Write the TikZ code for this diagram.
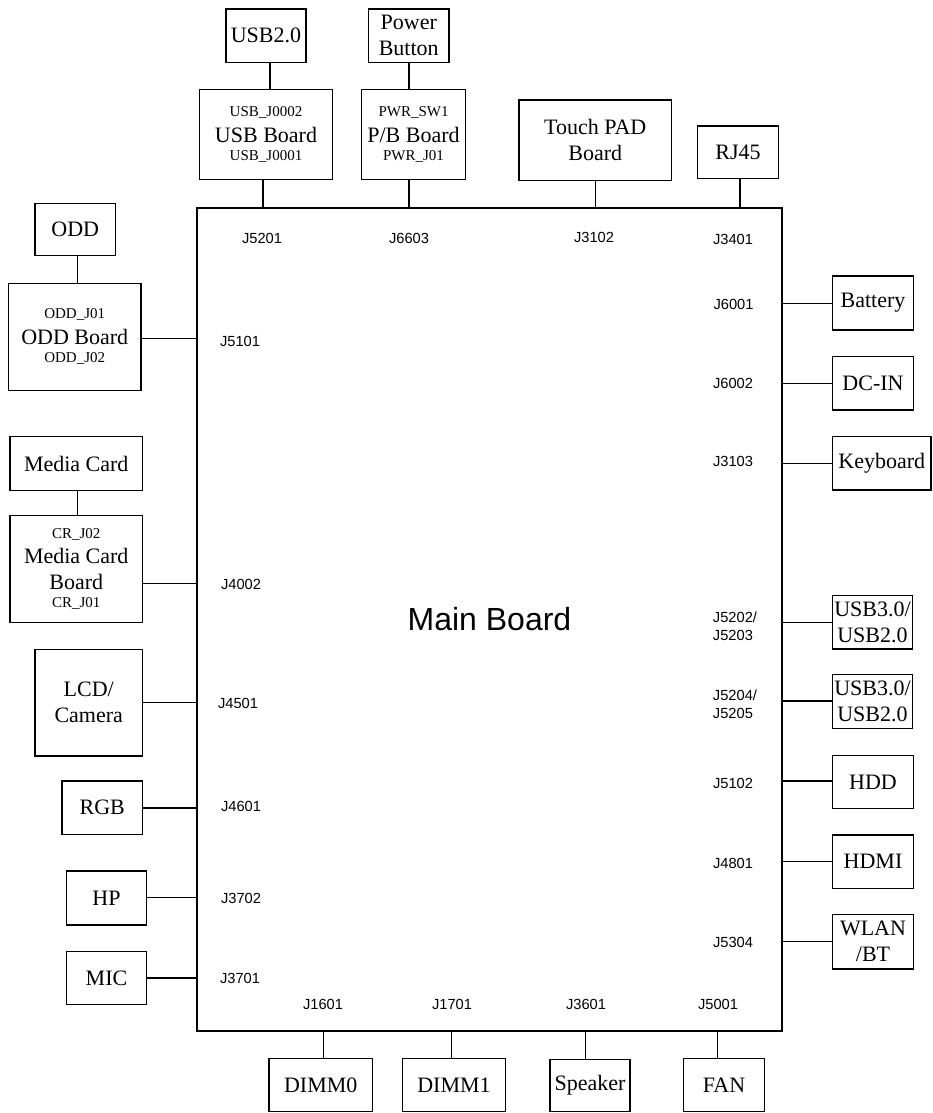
\documentclass[tikz,border=0pt]{standalone}
\usepackage{fontspec}
\usetikzlibrary{calc}
\setmainfont{Liberation Serif}
\newfontfamily\arialf{Liberation Sans}
\newcommand{\pbox}[6]{\node[pbx, minimum width={(#4-#2)*0.75pt}, minimum height={(#5-#3)*0.75pt}] (#1) at ({(#2+#4)/2},{(#3+#5)/2}) {#6};}
\tikzset{
  wire/.style={line width=1pt},
  pbx/.style={draw, line width=1pt, inner sep=0pt, align=center, font=\fontsize{16.5}{19.5}\selectfont},
  sub/.style={inner sep=0pt, font=\fontsize{11.25}{13}\selectfont},
  jack/.style={inner sep=0pt, font=\arialf\fontsize{11}{13.5}\selectfont, align=left},
}
\begin{document}
\begin{tikzpicture}[x=0.75pt,y=-0.75pt]
\useasboundingbox (0,0) rectangle (932,1113);
% main board
\node[draw, line width=1pt, inner sep=0pt, minimum width={585*0.75pt}, minimum height={823*0.75pt}, font=\arialf\fontsize{24}{28}\selectfont] (main) at (489.5,619.5) {Main Board};
% top boxes
\pbox{usb20}{226}{9}{306}{62.5}{USB2.0}
\pbox{usbb}{199.5}{89.5}{332.5}{179.5}{USB Board}
\node[sub] (usbj2) at ($(usbb.center)+(0,-22)$) {USB\_J0002};
\node[sub] (usbj1) at ($(usbb.center)+(0,22)$) {USB\_J0001};
\pbox{pwrbtn}{368.5}{9}{449}{62.5}{Power\\Button}
\pbox{pbb}{361.5}{89.5}{465.5}{179.5}{P/B Board}
\node[sub] (pwrsw) at ($(pbb.center)+(0,-22)$) {PWR\_SW1};
\node[sub] (pwrj) at ($(pbb.center)+(0,22)$) {PWR\_J01};
\pbox{touch}{519}{100}{671.5}{180.5}{Touch PAD\\Board}
\pbox{rj45}{697.5}{126}{778.5}{178.5}{RJ45}
% left boxes
\pbox{odd}{35}{203.5}{115.5}{255.5}{ODD}
\pbox{oddb}{8.5}{283.5}{141}{390.5}{ODD Board}
\node[sub] (oddj1) at ($(oddb.center)+(0,-23)$) {ODD\_J01};
\node[sub] (oddj2) at ($(oddb.center)+(0,21)$) {ODD\_J02};
\pbox{media}{10}{436.5}{142.5}{490.5}{Media Card}
\pbox{mediab}{10}{515.5}{142.5}{622.5}{Media Card\\Board}
\node[sub] (crj2) at ($(mediab.center)+(0,-35)$) {CR\_J02};
\node[sub] (crj1) at ($(mediab.center)+(0,34)$) {CR\_J01};
\pbox{lcd}{35}{649.5}{142.5}{756}{LCD/\\Camera}
\pbox{rgb}{62}{781}{142.5}{834.5}{RGB}
\pbox{hp}{66.5}{871}{146.5}{925}{HP}
\pbox{mic}{66.5}{951.5}{146.5}{1004.5}{MIC}
% right boxes
\pbox{battery}{832.5}{276}{913.5}{330}{Battery}
\pbox{dcin}{832.5}{356.5}{913.5}{410}{DC-IN}
\pbox{keyboard}{832.5}{436.5}{931}{490}{Keyboard}
\pbox{usb3a}{832.5}{595.5}{912.5}{649}{USB3.0/\\USB2.0}
\pbox{usb3b}{832.5}{674.5}{912.5}{728.5}{USB3.0/\\USB2.0}
\pbox{hdd}{832.5}{755.5}{913.5}{808.5}{HDD}
\pbox{hdmi}{832.5}{835}{913.5}{888.5}{HDMI}
\pbox{wlan}{832.5}{914.5}{913.5}{969}{WLAN\\/BT}
% bottom boxes
\pbox{dimm0}{269}{1058.5}{372.5}{1111.5}{DIMM0}
\pbox{dimm1}{402.5}{1058.5}{505.5}{1111.5}{DIMM1}
\pbox{speaker}{550}{1059.5}{630}{1111.5}{Speaker}
\pbox{fan}{683.5}{1058.5}{764.5}{1111.5}{FAN}
% jack coordinates on the main board
\coordinate (c5201) at (263,208);
\coordinate (c6603) at (409,208);
\coordinate (c3102) at (595.7,208);
\coordinate (c3401) at (740,208);
\coordinate (c5101) at (197,338.3);
\coordinate (c4002) at (197,583.3);
\coordinate (c4501) at (197,702.3);
\coordinate (c4601) at (197,808);
\coordinate (c3702) at (197,897.7);
\coordinate (c3701) at (197,978);
\coordinate (c6001) at (782,303.3);
\coordinate (c6002) at (782,383.3);
\coordinate (c3103) at (782,463.3);
\coordinate (c5202) at (782,622.3);
\coordinate (c5204) at (782,701);
\coordinate (c5102) at (782,781);
\coordinate (c4801) at (782,861.7);
\coordinate (c5304) at (782,941.7);
\coordinate (c1601) at (323.7,1031);
\coordinate (c1701) at (451.7,1031);
\coordinate (c3601) at (585.3,1031);
\coordinate (c5001) at (717.7,1031);
\coordinate (xusb) at (270,0);
\coordinate (xpwr) at (409,0);
\coordinate (xodd) at (77.7,0);
% jack labels
\node[jack] (l5201) at (262,238) {J5201};
\node[jack] (l6603) at (409,238) {J6603};
\node[jack] (l3102) at (594,237) {J3102};
\node[jack] (l3401) at (733,239) {J3401};
\node[jack] (l5101) at (240,341) {J5101};
\node[jack] (l4002) at (241,584) {J4002};
\node[jack] (l4501) at (238,703) {J4501};
\node[jack] (l4601) at (241,806) {J4601};
\node[jack] (l3702) at (241,898) {J3702};
\node[jack] (l3701) at (240,978) {J3701};
\node[jack] (l6001) at (733.5,304) {J6001};
\node[jack] (l6002) at (733,383) {J6002};
\node[jack] (l3103) at (733,461) {J3103};
\node[jack, anchor=west] (l5202) at (712.7,626) {J5202/\\J5203};
\node[jack, anchor=west] (l5204) at (712.7,704) {J5204/\\J5205};
\node[jack] (l5102) at (733,783) {J5102};
\node[jack] (l4801) at (733,863) {J4801};
\node[jack] (l5304) at (733,942) {J5304};
\node[jack] (l1601) at (323,1004) {J1601};
\node[jack] (l1701) at (452,1004) {J1701};
\node[jack] (l3601) at (586,1004) {J3601};
\node[jack] (l5001) at (718,1004) {J5001};
% connectors between boxes
\draw[wire] (usb20.south -| xusb) -- (usbb.north -| xusb);
\draw[wire] (pwrbtn.south -| xpwr) -- (pbb.north -| xpwr);
\draw[wire] (odd.south -| xodd) -- (oddb.north -| xodd);
\draw[wire] (media.south -| xodd) -- (mediab.north -| xodd);
% connectors to main board
\draw[wire] (usbb.south -| c5201) -- (c5201);
\draw[wire] (pbb.south -| c6603) -- (c6603);
\draw[wire] (touch.south -| c3102) -- (c3102);
\draw[wire] (rj45.south -| c3401) -- (c3401);
\draw[wire] (oddb.east |- c5101) -- (c5101);
\draw[wire] (mediab.east |- c4002) -- (c4002);
\draw[wire] (lcd.east |- c4501) -- (c4501);
\draw[wire] (rgb.east |- c4601) -- (c4601);
\draw[wire] (hp.east |- c3702) -- (c3702);
\draw[wire] (mic.east |- c3701) -- (c3701);
\draw[wire] (battery.west |- c6001) -- (c6001);
\draw[wire] (dcin.west |- c6002) -- (c6002);
\draw[wire] (keyboard.west |- c3103) -- (c3103);
\draw[wire] (usb3a.west |- c5202) -- (c5202);
\draw[wire] (usb3b.west |- c5204) -- (c5204);
\draw[wire] (hdd.west |- c5102) -- (c5102);
\draw[wire] (hdmi.west |- c4801) -- (c4801);
\draw[wire] (wlan.west |- c5304) -- (c5304);
\draw[wire] (dimm0.north -| c1601) -- (c1601);
\draw[wire] (dimm1.north -| c1701) -- (c1701);
\draw[wire] (speaker.north -| c3601) -- (c3601);
\draw[wire] (fan.north -| c5001) -- (c5001);
\end{tikzpicture}
\end{document}
